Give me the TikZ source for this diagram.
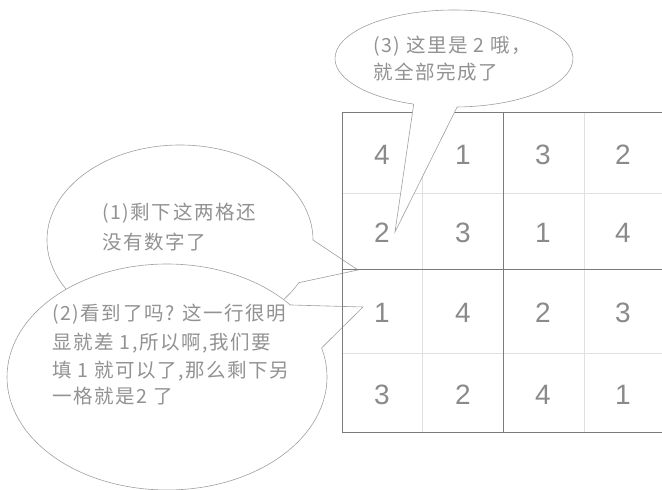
\documentclass[tikz,border=0pt]{standalone}
\usepackage{fontspec}
\newfontfamily\cjk[LetterSpace=8]{Noto Sans CJK SC}
\newfontfamily\numfont{Liberation Sans}
\definecolor{txtgray}{HTML}{929292}
\definecolor{numgray}{HTML}{8A8A8A}
\definecolor{gridgray}{HTML}{7B7B7B}
\definecolor{gridlight}{HTML}{E0E0E0}
\definecolor{bubblegray}{HTML}{A0A0A0}
\begin{document}
\begin{tikzpicture}[x=1pt,y=1pt,
  bubble/.style={draw=bubblegray, line width=0.6pt, fill=white, line join=miter},
  say/.style={anchor=base west, inner sep=0pt, text=txtgray, font=\cjk\fontsize{19.5}{22}\selectfont},
  digit/.style={text=numgray, font=\numfont\fontsize{28}{30}\selectfont, inner sep=0pt},
  major/.style={draw=gridgray, line width=1pt},
  minor/.style={draw=gridlight, line width=0.6pt}]

\useasboundingbox (0,0) rectangle (662,490);

% bubble centres and tips
\coordinate (cA) at (180,250);
\coordinate (cB) at (167,113);
\coordinate (cC) at (454,431.5);
\coordinate (tipA) at (358,220);
\coordinate (tipB) at (363,183);
\coordinate (tipC) at (395,258);

% bubble (1)
\draw[bubble] ([shift={(cA)}]0:133 and 95) arc[start angle=0, end angle=333.3, x radius=133, y radius=95] -- (tipA) -- cycle;
% bubble (2)
\draw[bubble] ([shift={(cB)}]39.6:160 and 113) arc[start angle=39.6, end angle=374.9, x radius=160, y radius=113] -- (tipB) -- cycle;

% grid
\draw[minor] (422.7,377) -- (422.7,57);
\draw[minor] (584.3,377) -- (584.3,57);
\draw[minor] (342,297) -- (662,297);
\draw[minor] (342,137) -- (662,137);
\draw[major] (662,377) -- (342,377) -- (342,57) -- (662,57);
\draw[major] (503.3,377) -- (503.3,57);
\draw[major] (342,220) -- (662,220);

% numbers
\node[digit] (n11) at (382,335) {4};
\node[digit] (n12) at (463,335) {1};
\node[digit] (n13) at (543,335) {3};
\node[digit] (n14) at (623,335) {2};
\node[digit] (n21) at (382,257) {2};
\node[digit] (n22) at (463,257) {3};
\node[digit] (n23) at (543,257) {1};
\node[digit] (n24) at (623,257) {4};
\node[digit] (n31) at (382,177) {1};
\node[digit] (n32) at (463,177) {4};
\node[digit] (n33) at (543,177) {2};
\node[digit] (n34) at (623,177) {3};
\node[digit] (n41) at (382,95) {3};
\node[digit] (n42) at (463,95) {2};
\node[digit] (n43) at (543,95) {4};
\node[digit] (n44) at (623,95) {1};

% bubble (3)
\draw[bubble] ([shift={(cC)}]271.5:119 and 48.5) arc[start angle=271.5, end angle=610.2, x radius=119, y radius=48.5] -- (tipC) -- cycle;

% texts
\node[say] (s3a) at (373,437.6) {(3) 这里是 2 哦，};
\node[say] (s3b) at (373,410.6) {就全部完成了};
\node[say] (s1a) at (102,270.6) {(1)剩下这两格还};
\node[say] (s1b) at (102,240.6) {没有数字了};
\node[say] (s2a) at (52,169.6) {(2)看到了吗? 这一行很明};
\node[say] (s2b) at (52,140.6) {显就差 1,所以啊,我们要};
\node[say] (s2c) at (52,112.6) {填 1 就可以了,那么剩下另};
\node[say] (s2d) at (52,86.6) {一格就是2 了};
\end{tikzpicture}
\end{document}
